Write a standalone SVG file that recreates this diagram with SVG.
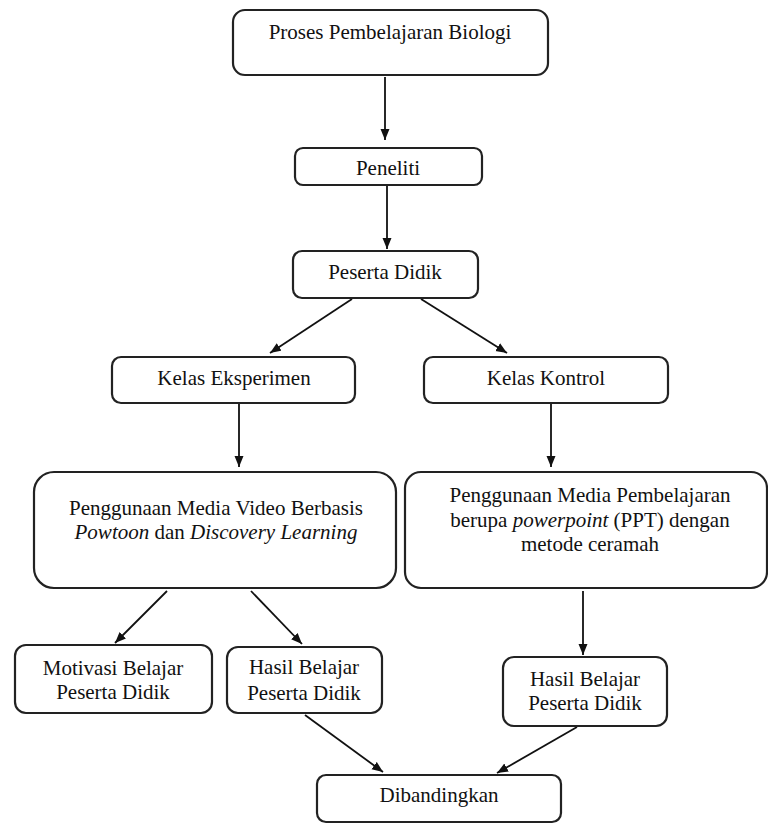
<svg xmlns="http://www.w3.org/2000/svg" width="768" height="826" viewBox="0 0 768 826">
<defs>
<marker id="ah" markerUnits="userSpaceOnUse" markerWidth="12" markerHeight="10" refX="11" refY="5" orient="auto">
<path d="M0,0.5 L11,5 L0,9.5 z" fill="#111"/>
</marker>
</defs>
<style>
.box{fill:#fff;stroke:#222;stroke-width:2.2}
.t{font-size:21px;fill:#111;text-anchor:middle}
.i{font-style:italic}
.c{stroke:#111;stroke-width:1.8;fill:none;marker-end:url(#ah)}
</style>
<rect width="768" height="826" fill="#fff"/>
<g id="connectors">
<line class="c" x1="385" y1="77" x2="385" y2="140"/>
<line class="c" x1="387" y1="186" x2="387" y2="249"/>
<line class="c" x1="352" y1="299" x2="270" y2="353"/>
<line class="c" x1="421" y1="299" x2="507" y2="353"/>
<line class="c" x1="239" y1="404" x2="239" y2="467"/>
<line class="c" x1="551" y1="404" x2="551" y2="467"/>
<line class="c" x1="167" y1="591" x2="115" y2="643"/>
<line class="c" x1="251" y1="591" x2="302" y2="644"/>
<line class="c" x1="583" y1="591" x2="583" y2="655"/>
<line class="c" x1="305" y1="715" x2="383" y2="772"/>
<line class="c" x1="577" y1="727" x2="497" y2="773"/>
</g>
<g font-family="Liberation Serif, Times New Roman, serif">
<g id="n1">
<rect class="box" x="233" y="10" width="315" height="65" rx="12"/>
<text class="t" x="390" y="39">Proses Pembelajaran Biologi</text>
</g>
<g id="n2">
<rect class="box" x="295" y="148" width="187" height="37" rx="8"/>
<text class="t" x="388" y="175">Peneliti</text>
</g>
<g id="n3">
<rect class="box" x="293" y="251" width="185" height="47" rx="9"/>
<text class="t" x="385" y="279">Peserta Didik</text>
</g>
<g id="n4">
<rect class="box" x="112" y="357" width="243" height="46" rx="9"/>
<text class="t" x="234" y="385">Kelas Eksperimen</text>
</g>
<g id="n5">
<rect class="box" x="424" y="357" width="244" height="46" rx="9"/>
<text class="t" x="546" y="385">Kelas Kontrol</text>
</g>
<g id="n6">
<rect class="box" x="34" y="472" width="362" height="116" rx="20"/>
<text class="t" x="216" y="515">Penggunaan Media Video Berbasis</text>
<text class="t" x="216" y="539"><tspan class="i">Powtoon</tspan> dan <tspan class="i">Discovery Learning</tspan></text>
</g>
<g id="n7">
<rect class="box" x="405" y="472" width="362" height="116" rx="16"/>
<text class="t" x="590" y="502">Penggunaan Media Pembelajaran</text>
<text class="t" x="590" y="527">berupa <tspan class="i">powerpoint</tspan> (PPT) dengan</text>
<text class="t" x="590" y="551">metode ceramah</text>
</g>
<g id="n8">
<rect class="box" x="15" y="645" width="197" height="68" rx="11"/>
<text class="t" x="113" y="675">Motivasi Belajar</text>
<text class="t" x="113" y="699">Peserta Didik</text>
</g>
<g id="n9">
<rect class="box" x="227" y="647" width="155" height="66" rx="11"/>
<text class="t" x="304" y="674">Hasil Belajar</text>
<text class="t" x="304" y="700">Peserta Didik</text>
</g>
<g id="n10">
<rect class="box" x="503" y="657" width="164" height="69" rx="11"/>
<text class="t" x="585" y="686">Hasil Belajar</text>
<text class="t" x="585" y="710">Peserta Didik</text>
</g>
<g id="n11">
<rect class="box" x="317" y="775" width="244" height="47" rx="9"/>
<text class="t" x="439" y="802">Dibandingkan</text>
</g>
</g>
</svg>
